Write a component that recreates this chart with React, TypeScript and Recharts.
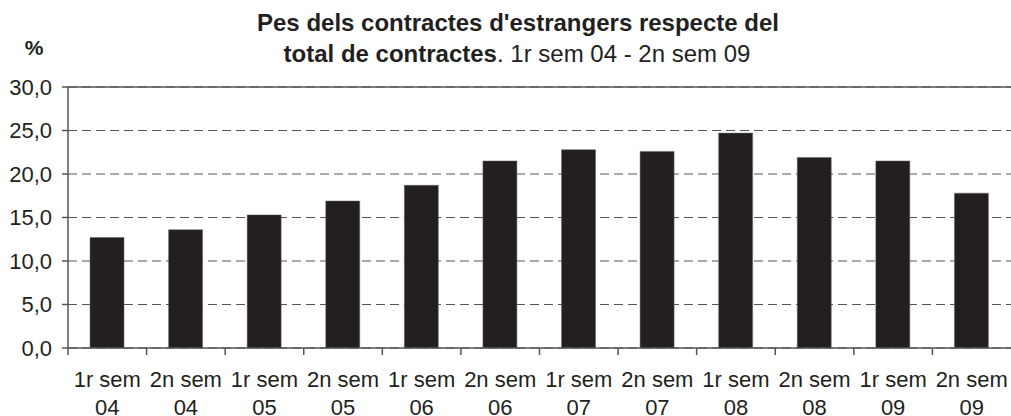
import React from 'react';
import { BarChart, Bar, XAxis, YAxis, CartesianGrid, ReferenceLine } from 'recharts';

// Semesters and share of foreigners' contracts (%)
const periods = ['1r sem', '2n sem', '1r sem', '2n sem', '1r sem', '2n sem', '1r sem', '2n sem', '1r sem', '2n sem', '1r sem', '2n sem'];
const years = ['04', '04', '05', '05', '06', '06', '07', '07', '08', '08', '09', '09'];
const shares = [12.7, 13.6, 15.3, 16.9, 18.7, 21.5, 22.8, 22.6, 24.7, 21.9, 21.5, 17.8];
const yTicks = [0, 5, 10, 15, 20, 25, 30];

const data = shares.map((v, i) => ({ label: `${periods[i]}|${years[i]}`, value: v }));

const W = 1011;
const H = 416;
const LEFT = 68;
const TOP = 87;
const BOTTOM = 68;
const band = (W - LEFT) / data.length;
const ink = '#231f20';
const axisColor = '#555555';
const font = '"Liberation Sans", Arial, sans-serif';

const XTick = (props: any) => {
  const { x, y, payload } = props;
  const [p, yr] = String(payload.value).split('|');
  return (
    <g>
      <line x1={x - band / 2} x2={x - band / 2} y1={y - 8} y2={y - 1} stroke={axisColor} strokeWidth={1.5} />
      <text x={x} y={y + 31} textAnchor="middle" fontSize={22} fontFamily={font} fill={ink}>{p}</text>
      <text x={x} y={y + 59} textAnchor="middle" fontSize={22} fontFamily={font} fill={ink}>{yr}</text>
    </g>
  );
};

export default function App() {
  return (
    <div style={{ position: 'relative', width: W, height: H, background: '#fff' }}>
      <style>{`body{margin:0}`}</style>
      <BarChart width={W} height={H} data={data} margin={{ top: TOP, right: 0, left: 0, bottom: 0 }}>
        <CartesianGrid vertical={false} stroke={axisColor} strokeDasharray="9 5" />
        <XAxis
          dataKey="label"
          height={BOTTOM}
          interval={0}
          tick={<XTick />}
          tickLine={false}
          axisLine={{ stroke: axisColor, strokeWidth: 1.5 }}
        />
        <YAxis
          width={LEFT}
          domain={[0, 30]}
          ticks={yTicks}
          tickFormatter={(v: number) => v.toFixed(1).replace('.', ',')}
          tick={{ fontSize: 22, fontFamily: font, fill: ink }}
          tickSize={6}
          tickMargin={10}
          tickLine={{ stroke: axisColor, strokeWidth: 1.5 }}
          axisLine={{ stroke: axisColor, strokeWidth: 1.5 }}
        />
        <ReferenceLine y={30} stroke={axisColor} strokeWidth={1.5} />
        <Bar dataKey="value" fill={ink} stroke="#666" strokeWidth={0.5} barSize={34} isAnimationActive={false} />
      </BarChart>
      <svg width={W} height={H} style={{ position: 'absolute', left: 0, top: 0, pointerEvents: 'none' }}>
        <text x={518} y={31} textAnchor="middle" fontSize={24} fontWeight="bold" fontFamily={font} fill={ink}>
          Pes dels contractes d'estrangers respecte del
        </text>
        <text x={517} y={62} textAnchor="middle" fontSize={24} fontFamily={font} fill={ink}>
          <tspan fontWeight="bold">total de contractes</tspan>. 1r sem 04 - 2n sem 09
        </text>
        <text x={34} y={55} textAnchor="middle" fontSize={21} fontWeight="bold" fontFamily={font} fill={ink}>%</text>
      </svg>
    </div>
  );
}
